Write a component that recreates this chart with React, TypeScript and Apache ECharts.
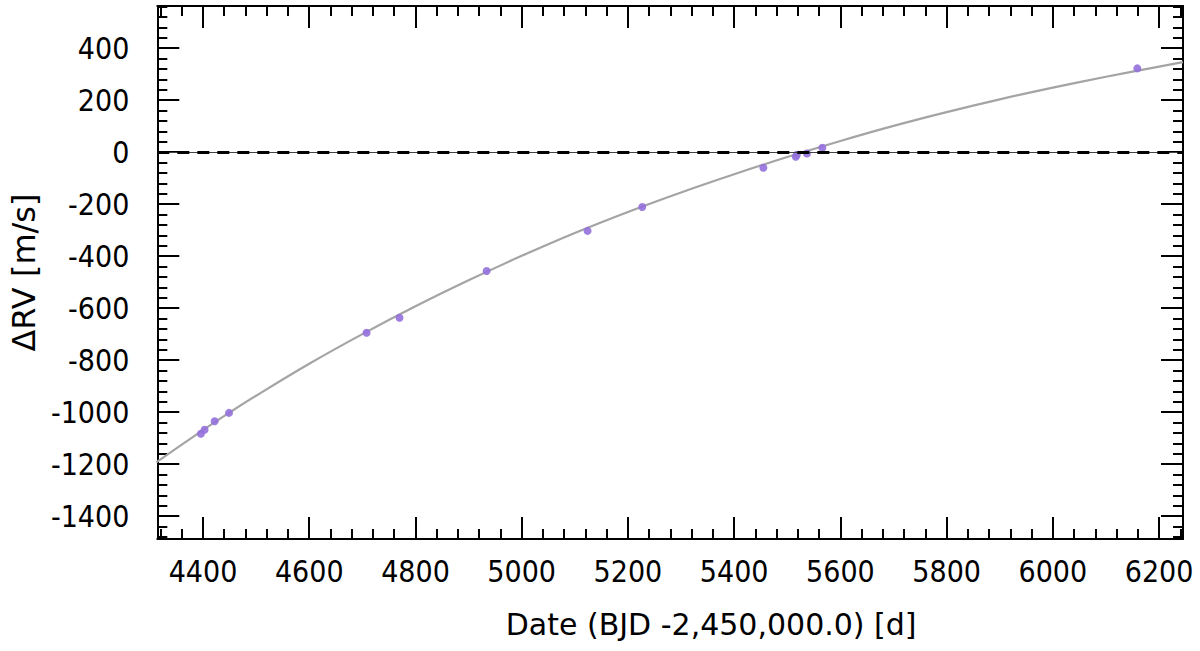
import React, { useEffect, useRef } from "react";
import * as echarts from "echarts";

// Observed radial velocities (BJD - 2,450,000 ; m/s)
const obsTime = [4396, 4403, 4422, 4449, 4708, 4770, 4934, 5124, 5227, 5455, 5516, 5518, 5537, 5566, 6159];
const obsRV = [-1083, -1068, -1035, -1003, -695, -637, -457, -303, -211, -60, -18, -10, -5, 17, 322];

// Fitted curve
const fitTime = [4312, 4400, 4449, 4500, 4600, 4700, 4800, 4900, 5000, 5100, 5200, 5300, 5400, 5500, 5600, 5700, 5800, 5900, 6000, 6100, 6200, 6245];
const fitRV = [-1193, -1069, -1003, -937, -814, -700, -593, -493, -399, -311, -230, -155, -85, -19, 43, 101, 154, 203, 248, 290, 329, 346];

// Axis ticks
const xMajorTicks = [4400, 4600, 4800, 5000, 5200, 5400, 5600, 5800, 6000, 6200];
const xMinorTicks = [4320, 4360, 4440, 4480, 4520, 4560, 4640, 4680, 4720, 4760, 4840, 4880, 4920, 4960, 5040, 5080, 5120, 5160, 5240, 5280, 5320, 5360, 5440, 5480, 5520, 5560, 5640, 5680, 5720, 5760, 5840, 5880, 5920, 5960, 6040, 6080, 6120, 6160, 6240];
const yMajorTicks = [-1400, -1200, -1000, -800, -600, -400, -200, 0, 200, 400];
const yMinorTicks = [-1480, -1440, -1360, -1320, -1280, -1240, -1160, -1120, -1080, -1040, -960, -920, -880, -840, -760, -720, -680, -640, -560, -520, -480, -440, -360, -320, -280, -240, -160, -120, -80, -40, 40, 80, 120, 160, 240, 280, 320, 360, 440, 480, 520, 560];

const X_MIN = 4314;
const X_MAX = 6245;
const Y_MIN = -1488;
const Y_MAX = 562;

const FONT = "'DejaVu Sans Condensed', 'DejaVu Sans', sans-serif";
const NAME_FONT = "'DejaVu Sans', sans-serif";

export default function App() {
  const ref = useRef<HTMLDivElement>(null);
  useEffect(() => {
    if (!ref.current) return;
    const chart = echarts.init(ref.current, undefined, { renderer: "svg" });
    const mk = (pos: string, major: boolean, isX: boolean, withLabel: boolean, extra: any = {}) => ({
      type: "value",
      position: pos,
      offset: 0,
      min: isX ? X_MIN : Y_MIN,
      max: isX ? X_MAX : Y_MAX,
      axisLine: { show: major, onZero: false, lineStyle: { color: "#000", width: 2 } },
      splitLine: { show: false },
      axisTick: {
        show: true,
        inside: true,
        length: major ? 22 : 10,
        lineStyle: { color: "#000", width: 2 },
        customValues: major ? (isX ? xMajorTicks : yMajorTicks) : (isX ? xMinorTicks : yMinorTicks),
      },
      axisLabel: withLabel
        ? {
            show: true,
            customValues: isX ? xMajorTicks : yMajorTicks,
            formatter: (v: number) => String(v),
            fontSize: 30,
            fontFamily: FONT,
            color: "#000",
            margin: isX ? 17 : 28,
          }
        : { show: false },
      ...extra,
    });
    chart.setOption({
      animation: false,
      backgroundColor: "#fff",
      grid: { left: 157, right: 17, top: 6, bottom: 112, containLabel: false },
      xAxis: [
        mk("bottom", true, true, true, {
          name: "Date (BJD -2,450,000.0) [d]",
          nameLocation: "middle",
          nameGap: 70,
          nameTextStyle: { fontSize: 30, fontFamily: NAME_FONT, color: "#000", padding: [0, 0, 0, 82] },
        }),
        mk("bottom", false, true, false),
        mk("top", true, true, false),
        mk("top", false, true, false),
      ],
      yAxis: [
        mk("left", true, false, true, {
          name: "ΔRV [m/s]",
          nameLocation: "middle",
          nameGap: 107,
          nameTextStyle: { fontSize: 32, fontFamily: NAME_FONT, color: "#000" },
        }),
        mk("left", false, false, false),
        mk("right", true, false, false),
        mk("right", false, false, false),
      ],
      series: [
        {
          type: "line",
          xAxisIndex: 0,
          yAxisIndex: 0,
          data: fitTime.map((t, i) => [t, fitRV[i]]),
          smooth: 0.4,
          showSymbol: false,
          lineStyle: { color: "#a4a4a4", width: 2.2 },
          markLine: {
            silent: true,
            symbol: "none",
            label: { show: false },
            data: [
              { yAxis: 0, lineStyle: { type: "solid", width: 1, color: "#444" } },
              { yAxis: 0, lineStyle: { type: [12, 8], width: 3, color: "#000" } },
            ],
          },
          z: 2,
        },
        {
          type: "scatter",
          xAxisIndex: 0,
          yAxisIndex: 0,
          data: obsTime.map((t, i) => [t, obsRV[i]]),
          symbolSize: 8,
          itemStyle: { color: "#9370db", opacity: 0.9 },
          z: 3,
        },
      ],
    });
    return () => chart.dispose();
  }, []);
  return (
    <div
      ref={ref}
      style={{ position: "fixed", left: 0, top: 0, width: 1200, height: 651 }}
    />
  );
}
